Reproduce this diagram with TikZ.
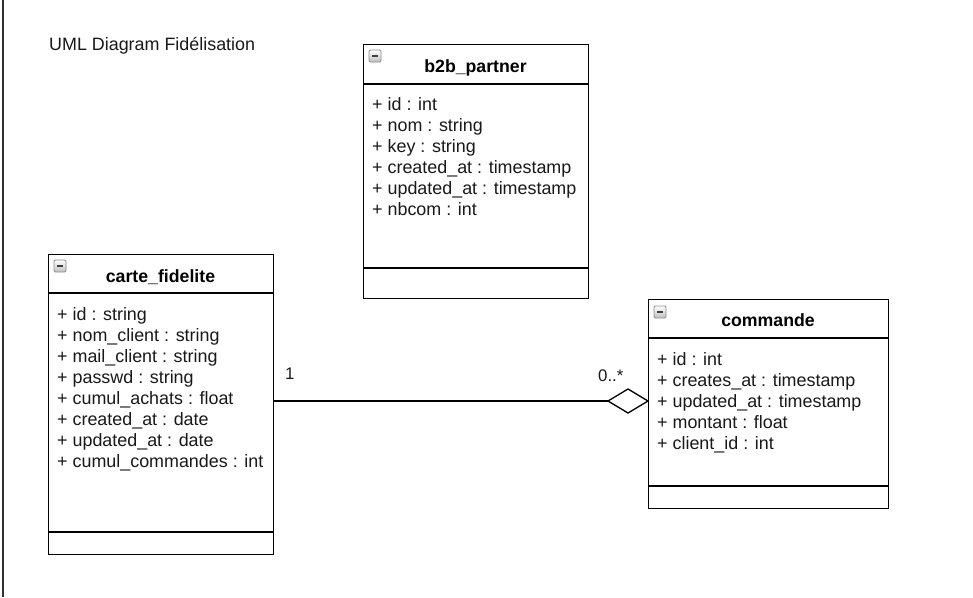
\documentclass[tikz,border=0pt]{standalone}
\usepackage{fontspec}
\setmainfont{Liberation Sans}
\begin{document}
\begin{tikzpicture}[x=1pt,y=-1pt,
  classbox/.style={draw=black, line width=1.3, fill=white, inner sep=0, anchor=north west},
  sepline/.style={draw=black, line width=1.3},
  attr/.style={anchor=base west, inner sep=0, text=black!90, font=\fontsize{17.9}{21}\selectfont},
  ctitle/.style={anchor=base, inner sep=0, text=black, font=\fontsize{17.7}{21}\selectfont\bfseries},
  mult/.style={anchor=base west, inner sep=0, text=black!90, font=\fontsize{16.8}{20}\selectfont},
  iconbox/.style={draw=black!45, line width=0.8, rounded corners=1.2, top color=white, bottom color=black!25},
  iconminus/.style={draw=black!75, line width=1.6},
  link/.style={draw=black, line width=1.3}
]
\useasboundingbox (0,0) rectangle (973,597);
\fill[white] (0,0) rectangle (973,597);
% left frame line
\draw[black!80, line width=2] (3,0) -- (3,597);

% title
\node[attr] (title) at (49,50) {UML Diagram Fidélisation};

% ---------- b2b_partner ----------
\node[classbox, minimum width=225, minimum height=254] (b2b) at (363,44) {};
\draw[sepline] (363,84) -- (588,84);
\draw[sepline] (363,268) -- (588,268);
\node[ctitle] (b2bt) at (475.5,72) {b2b\_partner};
\draw[iconbox] (369,50) rectangle (381,62);
\draw[iconminus] (372,56) -- (378,56);
\foreach \t [count=\i] in {+ id : int, + nom : string, + key : string, + created\_at : timestamp, + updated\_at : timestamp, + nbcom : int}
  \node[attr] (b2b-\i) at (372,{110+21*(\i-1)}) {\t};

% ---------- carte_fidelite ----------
\node[classbox, minimum width=225, minimum height=300] (carte) at (48,254) {};
\draw[sepline] (48,293) -- (273,293);
\draw[sepline] (48,532) -- (273,532);
\node[ctitle] (cartet) at (160.5,282) {carte\_fidelite};
\draw[iconbox] (54,260) rectangle (66,272);
\draw[iconminus] (57,266) -- (63,266);
\foreach \t [count=\i] in {+ id : string, + nom\_client : string, + mail\_client : string, + passwd : string, + cumul\_achats : float, + created\_at : date, + updated\_at : date, + cumul\_commandes : int}
  \node[attr] (carte-\i) at (57,{320+21*(\i-1)}) {\t};

% ---------- commande ----------
\node[classbox, minimum width=240, minimum height=209] (cmd) at (648,299) {};
\draw[sepline] (648,338) -- (888,338);
\draw[sepline] (648,486) -- (888,486);
\node[ctitle] (cmdt) at (768,326) {commande};
\draw[iconbox] (654,306) rectangle (666,318);
\draw[iconminus] (657,312) -- (663,312);
\foreach \t [count=\i] in {+ id : int, + creates\_at : timestamp, + updated\_at : timestamp, + montant : float, + client\_id : int}
  \node[attr] (cmd-\i) at (657,{365+21*(\i-1)}) {\t};

% ---------- aggregation ----------
\coordinate (aStart) at (carte.east |- 0,401);
\coordinate (aTip) at (608,401);
\coordinate (aTop) at (628,389);
\coordinate (aEnd) at (cmd.west |- 0,401);
\coordinate (aBot) at (628,413);
\draw[link] (aStart) -- (aTip);
\draw[link, fill=white, line join=miter] (aTip) -- (aTop) -- (aEnd) -- (aBot) -- cycle;
\node[mult] (m1) at (285,379) {1};
\node[mult] (m2) at (598,381) {0..*};
\end{tikzpicture}
\end{document}
